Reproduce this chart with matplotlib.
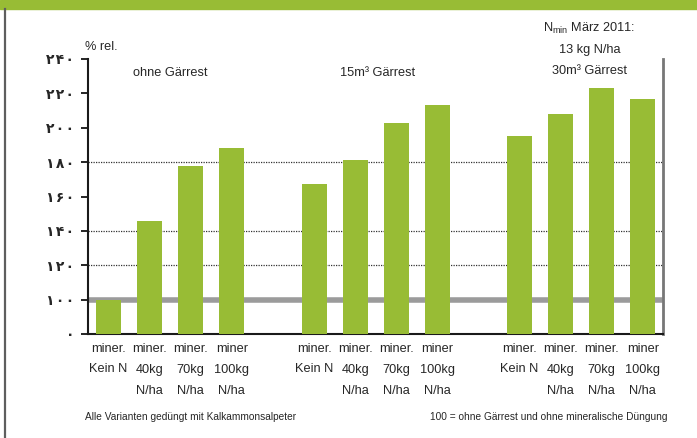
import matplotlib
matplotlib.use('Agg')
import matplotlib.pyplot as plt
import matplotlib.transforms as mtransforms
import numpy as np

plt.rcParams['font.family'] = ['Liberation Sans', 'DejaVu Sans']
plt.rcParams['mathtext.fontset'] = 'custom'
plt.rcParams['mathtext.rm'] = 'Liberation Sans'

# values in % rel.
ohne_gaerrest = [100, 146, 178, 188]
gaerrest_15 = [167, 181, 203, 213]
gaerrest_30 = [195, 208, 223, 217]

label_line1 = ['miner.', 'miner.', 'miner.', 'miner']
label_line2 = ['Kein N', '40kg', '70kg', '100kg']
label_line3 = ['', 'N/ha', 'N/ha', 'N/ha']

group_titles = ['ohne Gärrest', '15m³ Gärrest']
nmin_lines = [r'N$_{\mathrm{min}}$ März 2011:', '13 kg N/ha', '30m³ Gärrest']

tick_values = [0, 100, 120, 140, 160, 180, 200, 220, 240]
grid_values = [120, 140, 180]
reference = 100

green = '#98bc35'
text_col = '#262626'
W, H = 697, 438


def persian(n):
    # extended arabic-indic digits, spaced out a little like the original
    return '\u200a'.join(chr(0x06F0 + int(c)) for c in str(n))


def fx(px):
    return px / W


def fy(py):
    return 1 - py / H


def main():
    fig = plt.figure(figsize=(W / 100, H / 100), dpi=100)

    # green band on top and grey border on the left
    fig.patches.append(plt.Rectangle((0, fy(9)), 1, 9 / H, transform=fig.transFigure,
                                     color=green, zorder=0))
    fig.lines.append(plt.Line2D([fx(4.8), fx(4.8)], [0, fy(9)], transform=fig.transFigure,
                                color='#5e5e5e', lw=1.6))

    ax = fig.add_axes([fx(88), fy(334), fx(663) - fx(88), fy(59) - fy(334)])

    # axis is broken: "0" sits one step below 100
    base = 80
    pos = [base if v == 0 else v for v in tick_values]

    groups = [ohne_gaerrest, gaerrest_15, gaerrest_30]
    xs = []
    for g, vals in enumerate(groups):
        x = np.arange(4) + g * 5
        xs.append(x)
        ax.bar(x, np.array(vals) - base, bottom=base, width=0.61, color=green, zorder=3)

    ax.axhline(reference, xmin=0.004, xmax=0.995, color='#9b9b9b', lw=4.0, zorder=2)
    for gv in grid_values:
        ax.axhline(gv, color='#333333', lw=0.9, linestyle=(0, (1, 1)), zorder=1)

    ax.set_xlim(-0.5, 13.49)
    ax.set_ylim(base, 240)
    ax.set_yticks(pos)
    ax.set_yticklabels([persian(v) for v in tick_values], family=['DejaVu Sans'],
                       fontsize=10, fontweight='bold', color=text_col)
    ax.set_xticks([])
    ax.tick_params(axis='y', direction='out', length=5, width=1.2, pad=5)
    ax.spines['top'].set_visible(False)
    for s in ['left', 'bottom']:
        ax.spines[s].set_linewidth(1.5)
        ax.spines[s].set_color('#1a1a1a')
    ax.spines['right'].set_linewidth(2)
    ax.spines['right'].set_color('#777777')

    # category labels under the bars
    trans = mtransforms.blended_transform_factory(ax.transData, fig.transFigure)
    for x in xs:
        for i, xi in enumerate(x):
            for line, yy in zip([label_line1, label_line2, label_line3], [348.5, 369.5, 390.5]):
                if line[i]:
                    ax.text(xi, fy(yy), line[i], transform=trans, ha='center', va='center',
                            fontsize=9.2, color=text_col, clip_on=False)

    fig.text(fx(85), fy(46.5), '% rel.', ha='left', va='center', fontsize=9.2, color=text_col)
    fig.text(fx(170), fy(73), group_titles[0], ha='center', va='center', fontsize=9.2, color=text_col)
    fig.text(fx(378), fy(73), group_titles[1], ha='center', va='center', fontsize=9.2, color=text_col)
    for t, yy in zip(nmin_lines, [28.5, 49.5, 70.5]):
        fig.text(fx(589.5), fy(yy), t, ha='center', va='center', fontsize=9.2, color=text_col)

    fig.text(fx(85), fy(417.5), 'Alle Varianten gedüngt mit Kalkammonsalpeter',
             ha='left', va='center', fontsize=7.3, color=text_col)
    fig.text(fx(667), fy(417.5), '100 = ohne Gärrest und ohne mineralische Düngung',
             ha='right', va='center', fontsize=7.3, color=text_col)

    fig.savefig('out.png', dpi=100)


if __name__ == '__main__':
    main()
